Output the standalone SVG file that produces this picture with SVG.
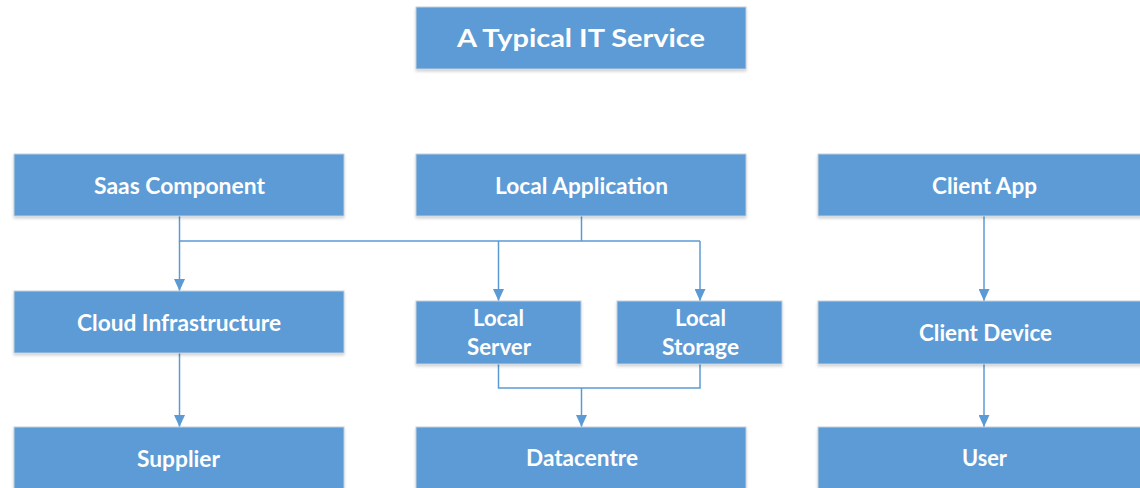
<svg xmlns="http://www.w3.org/2000/svg" width="1140" height="488" viewBox="0 0 1140 488">
  <defs>
    <style>
      .box { fill: #5B9BD5; stroke: #C3CFDC; stroke-width: 1; filter: url(#shadow); }
      .lbl { font-family: Lato, "Open Sans", "Liberation Sans", sans-serif; font-weight: 700; fill: #FFFFFF; text-anchor: middle; font-size: 22px; }
      .ttl { font-size: 25px; }
      .wire { fill: none; stroke: #5B9BD5; stroke-width: 1.5; }
      .arrow { marker-end: url(#head); }
    </style>
    <filter id="shadow" x="-5%" y="-10%" width="110%" height="130%">
      <feGaussianBlur in="SourceAlpha" stdDeviation="1.5"/>
      <feOffset dx="0" dy="1.5" result="b"/>
      <feComponentTransfer><feFuncA type="linear" slope="0.18"/></feComponentTransfer>
      <feMerge><feMergeNode/><feMergeNode in="SourceGraphic"/></feMerge>
    </filter>
    <marker id="head" viewBox="0 0 12 11" refX="12" refY="5.5" markerWidth="12" markerHeight="11" markerUnits="userSpaceOnUse" orient="auto">
      <path d="M0,0 L12,5.5 L0,11 Z" fill="#5B9BD5"/>
    </marker>
  </defs>

  <rect width="1140" height="488" fill="#FFFFFF"/>

  <!-- connectors -->
  <g id="connectors">
    <!-- Saas / Local Application fan-out -->
    <path class="wire" d="M179.5,216 V241 H700"/>
    <path class="wire" d="M581.5,216 V241"/>
    <path class="wire arrow" d="M179.5,241 V291"/>
    <path class="wire arrow" d="M498.5,241 V301"/>
    <path class="wire arrow" d="M700,241 V301"/>
    <!-- Local Server / Local Storage merge into Datacentre -->
    <path class="wire" d="M498.5,364 V388 H700 V364"/>
    <path class="wire arrow" d="M581.5,388 V427"/>
    <!-- Cloud Infrastructure to Supplier -->
    <path class="wire arrow" d="M179.5,353 V427"/>
    <!-- client chain -->
    <path class="wire arrow" d="M984,216 V301"/>
    <path class="wire arrow" d="M984,364 V427"/>
  </g>

  <g id="title">
    <rect class="box" x="416" y="7" width="330" height="62"/>
    <text class="lbl ttl" x="581" y="47" textLength="248" lengthAdjust="spacingAndGlyphs">A Typical IT Service</text>
  </g>

  <g id="saas-component">
    <rect class="box" x="14" y="154" width="330" height="62"/>
    <text class="lbl" x="179.5" y="194" textLength="171" lengthAdjust="spacingAndGlyphs">Saas Component</text>
  </g>

  <g id="local-application">
    <rect class="box" x="416" y="154" width="330" height="62"/>
    <text class="lbl" x="581.5" y="194" textLength="173" lengthAdjust="spacingAndGlyphs">Local Application</text>
  </g>

  <g id="client-app">
    <rect class="box" x="818" y="154" width="330" height="62"/>
    <text class="lbl" x="984.5" y="194" textLength="105" lengthAdjust="spacingAndGlyphs">Client App</text>
  </g>

  <g id="cloud-infrastructure">
    <rect class="box" x="14" y="291" width="330" height="62"/>
    <text class="lbl" x="179" y="331" textLength="204" lengthAdjust="spacingAndGlyphs">Cloud Infrastructure</text>
  </g>

  <g id="local-server">
    <rect class="box" x="416" y="301" width="165" height="63"/>
    <text class="lbl" x="498.5" y="326" textLength="51" lengthAdjust="spacingAndGlyphs">Local</text>
    <text class="lbl" x="499" y="355" textLength="64" lengthAdjust="spacingAndGlyphs">Server</text>
  </g>

  <g id="local-storage">
    <rect class="box" x="617" y="301" width="165" height="63"/>
    <text class="lbl" x="700.5" y="326" textLength="51" lengthAdjust="spacingAndGlyphs">Local</text>
    <text class="lbl" x="700.5" y="355" textLength="77" lengthAdjust="spacingAndGlyphs">Storage</text>
  </g>

  <g id="client-device">
    <rect class="box" x="818" y="301" width="330" height="63"/>
    <text class="lbl" x="985.5" y="341" textLength="133" lengthAdjust="spacingAndGlyphs">Client Device</text>
  </g>

  <g id="supplier">
    <rect class="box" x="14" y="427" width="330" height="70"/>
    <text class="lbl" x="178.5" y="467" textLength="83" lengthAdjust="spacingAndGlyphs">Supplier</text>
  </g>

  <g id="datacentre">
    <rect class="box" x="416" y="427" width="330" height="70"/>
    <text class="lbl" x="582" y="466" textLength="112" lengthAdjust="spacingAndGlyphs">Datacentre</text>
  </g>

  <g id="user">
    <rect class="box" x="818" y="427" width="330" height="70"/>
    <text class="lbl" x="984.5" y="466" textLength="45" lengthAdjust="spacingAndGlyphs">User</text>
  </g>
</svg>
